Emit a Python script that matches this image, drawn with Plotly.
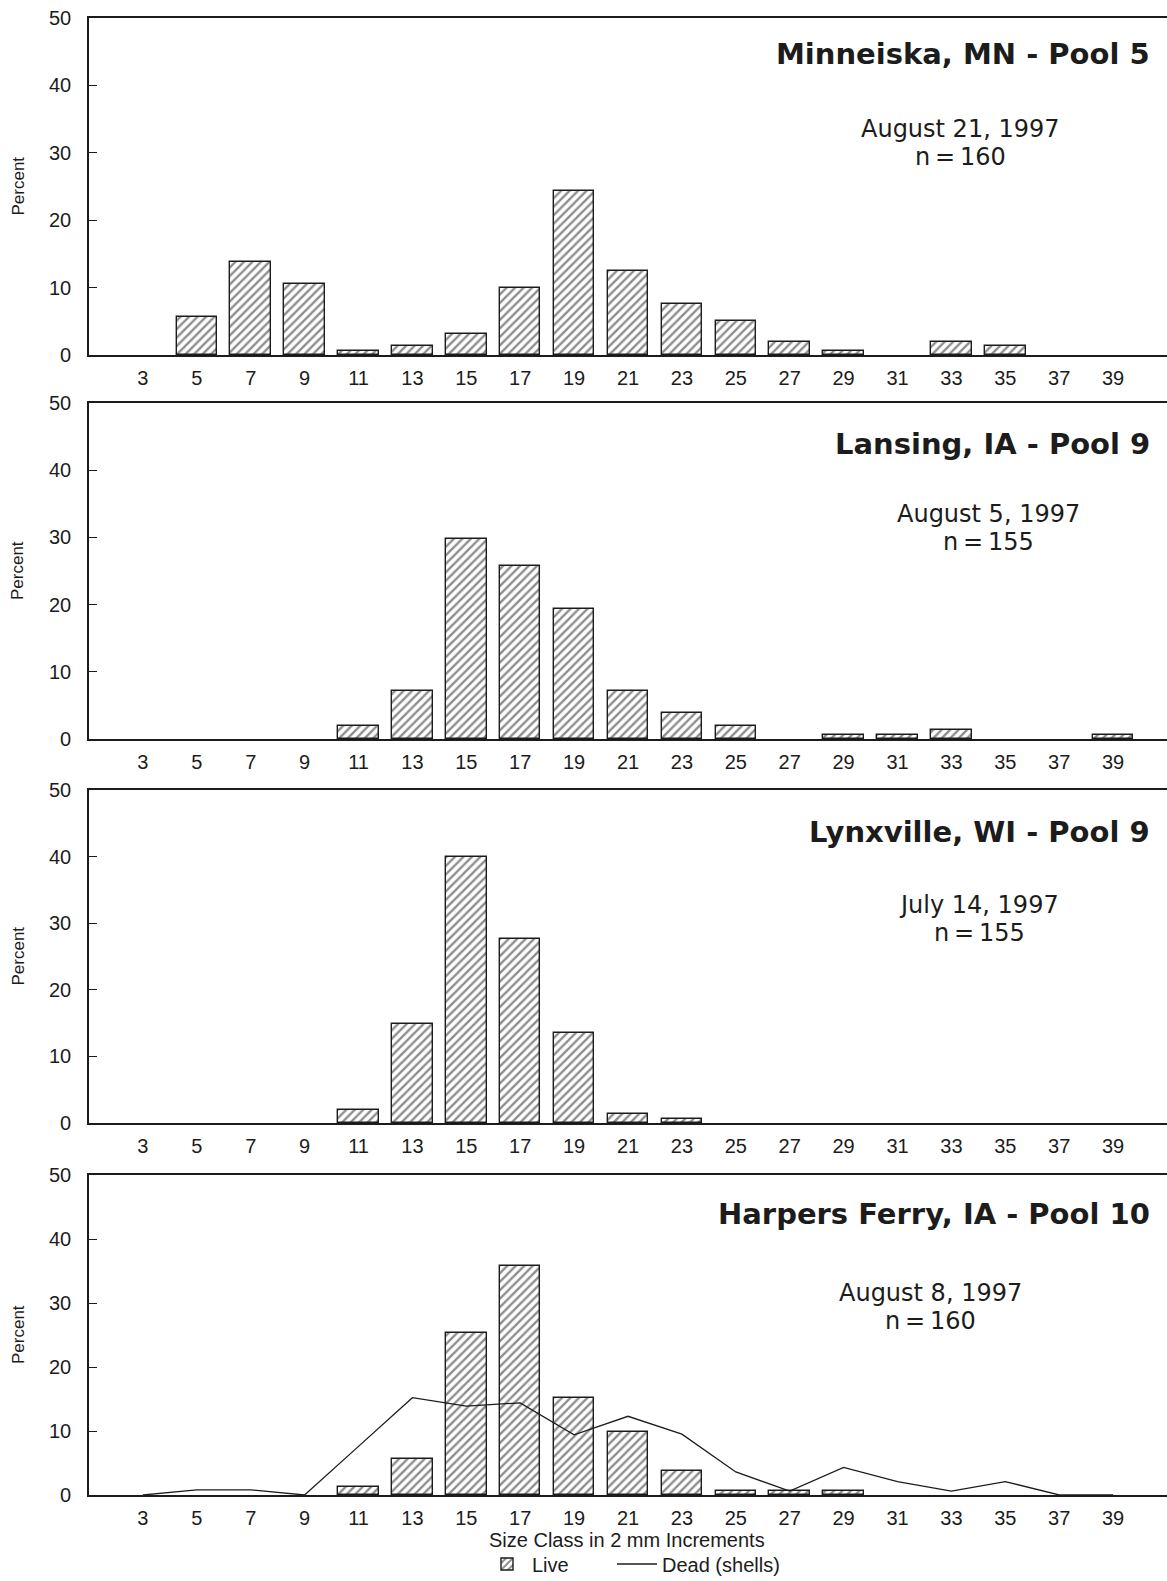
import plotly.graph_objects as go

# Size classes (2 mm increments)
size_classes = [3, 5, 7, 9, 11, 13, 15, 17, 19, 21, 23, 25, 27, 29, 31, 33, 35, 37, 39]

# Percent of live mussels in each size class, by site
minneiska_live = [0, 5.6, 13.8, 10.6, 0.6, 1.3, 3.1, 10.0, 24.4, 12.5, 7.5, 5.0, 1.9, 0.6, 0, 1.9, 1.3, 0, 0]
lansing_live = [0, 0, 0, 0, 1.9, 7.1, 29.7, 25.8, 19.4, 7.1, 3.9, 1.9, 0, 0.6, 0.6, 1.3, 0, 0, 0.6]
lynxville_live = [0, 0, 0, 0, 1.9, 14.8, 40.0, 27.7, 13.5, 1.3, 0.6, 0, 0, 0, 0, 0, 0, 0, 0]
harpers_live = [0, 0, 0, 0, 1.3, 5.6, 25.3, 35.8, 15.1, 9.8, 3.8, 0.6, 0.6, 0.6, 0, 0, 0, 0, 0]
# Dead shells at Harpers Ferry
harpers_dead = [0, 0.8, 0.8, 0, 7.6, 15.2, 13.9, 14.4, 9.4, 12.3, 9.5, 3.6, 0.6, 4.3, 2.1, 0.6, 2.1, 0, 0]

sites = ["Minneiska, MN - Pool 5", "Lansing, IA - Pool 9",
         "Lynxville, WI - Pool 9", "Harpers Ferry, IA - Pool 10"]
dates = ["August 21, 1997", "August 5, 1997", "July 14, 1997", "August 8, 1997"]
sample_sizes = ["n\u2009=\u2009160", "n\u2009=\u2009155", "n\u2009=\u2009155", "n\u2009=\u2009160"]
live_series = [minneiska_live, lansing_live, lynxville_live, harpers_live]

y_ticks = [0, 10, 20, 30, 40, 50]
x_title = "Size Class in 2 mm Increments"

W, H = 1167, 1581
INK = "#1c1c1c"
SANS = "Liberation Sans, Arial, Helvetica"

# panel pixel geometry (top of plot area, bottom of plot area)
panel_top = [18, 403, 790, 1175]
panel_bot = [355, 739, 1123, 1495]
left_px = 89

# title / text positions in pixels
title_y = [54, 444, 832, 1214]
text_cx = [960, 988, 979, 930]
date_y = [129, 514, 905, 1293]
n_y = [157, 542, 933, 1321]


def fx(px):
    return px / W


def fy(px):
    return 1 - px / H


def drop_empty(values):
    # empty size classes get no bar at all
    return [v if v > 0 else None for v in values]


fig = go.Figure()
annotations = []

for i in range(4):
    ax = "" if i == 0 else str(i + 1)
    xa, ya = "x" + ax, "y" + ax
    fig.add_trace(go.Bar(
        x=size_classes, y=drop_empty(live_series[i]), xaxis=xa, yaxis=ya,
        width=1.5, name="Live", showlegend=(i == 3), legend="legend",
        marker=dict(color="white", line=dict(color=INK, width=1.4),
                    pattern=dict(shape="/", fgcolor=INK, bgcolor="white",
                                 size=6, solidity=0.4)),
    ))
    layout_x = dict(
        domain=[fx(left_px), 1.0], range=[1, 41], anchor=ya, automargin=False,
        tickmode="array", tickvals=size_classes,
        ticktext=[str(v) for v in size_classes],
        ticks="", showline=True, linecolor=INK, linewidth=1.6, mirror=True,
        showgrid=False, zeroline=False, ticklabelstandoff=4,
        tickfont=dict(family=SANS, size=20, color=INK),
    )
    layout_y = dict(
        domain=[fy(panel_bot[i]), fy(panel_top[i])], range=[0, 50], anchor=xa,
        automargin=False,
        tickmode="array", tickvals=y_ticks, ticks="inside", ticklen=8,
        tickwidth=1, tickcolor=INK,
        showline=True, linecolor=INK, linewidth=1.6, showgrid=False,
        zeroline=False, ticklabelstandoff=12,
        tickfont=dict(family=SANS, size=20, color=INK),
    )
    fig.update_layout(**{"xaxis" + ax: layout_x, "yaxis" + ax: layout_y})

    annotations.append(dict(
        text="Percent", textangle=-90, x=fx(18), y=fy((panel_top[i] + panel_bot[i]) / 2),
        xref="paper", yref="paper", showarrow=False, xanchor="center", yanchor="middle",
        font=dict(family=SANS, size=17, color=INK)))
    annotations.append(dict(
        text=sites[i], x=fx(1152), y=fy(title_y[i]), xref="paper", yref="paper",
        showarrow=False, xanchor="right", yanchor="middle",
        font=dict(family="DejaVu Sans", size=29, color=INK, weight="bold")))
    annotations.append(dict(
        text=dates[i], x=fx(text_cx[i]), y=fy(date_y[i]), xref="paper", yref="paper",
        showarrow=False, xanchor="center", yanchor="middle",
        font=dict(family="DejaVu Sans", size=24, color=INK)))
    annotations.append(dict(
        text=sample_sizes[i], x=fx(text_cx[i]), y=fy(n_y[i]), xref="paper", yref="paper",
        showarrow=False, xanchor="center", yanchor="middle",
        font=dict(family="DejaVu Sans", size=24, color=INK)))

# dead shells line on the last panel
fig.add_trace(go.Scatter(
    x=size_classes, y=harpers_dead, xaxis="x4", yaxis="y4", mode="lines",
    name="Dead (shells)", line=dict(color=INK, width=1.3), showlegend=True,
    legend="legend2",
))

annotations.append(dict(
    text=x_title, x=fx(627), y=fy(1540), xref="paper", yref="paper",
    showarrow=False, xanchor="center", yanchor="middle",
    font=dict(family=SANS, size=20, color=INK)))

legend_style = dict(orientation="h", xanchor="left", yanchor="middle", itemwidth=40,
                    font=dict(family=SANS, size=20, color=INK),
                    bgcolor="rgba(0,0,0,0)")

fig.update_layout(
    width=W, height=H, margin=dict(l=0, r=0, t=0, b=0, autoexpand=False),
    paper_bgcolor="white", plot_bgcolor="white",
    annotations=annotations, bargap=0,
    legend=dict(x=fx(482), y=fy(1564), **legend_style),
    legend2=dict(x=fx(612), y=fy(1564), **legend_style),
)

fig.write_html("out.html")
